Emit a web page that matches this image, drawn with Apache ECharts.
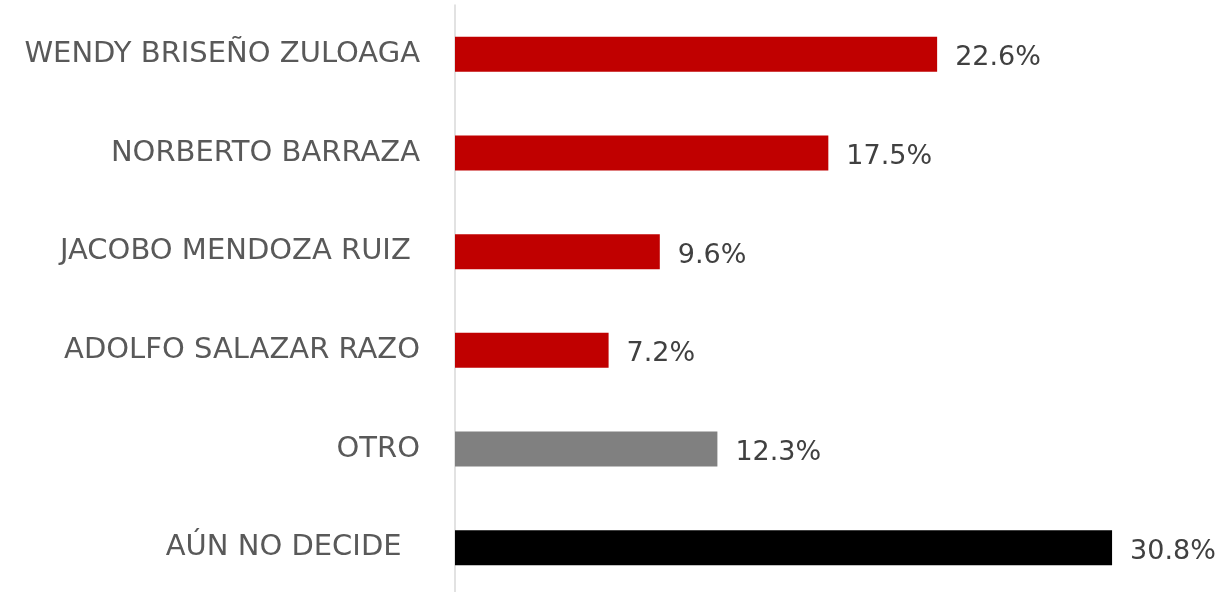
<!DOCTYPE html>
<html><head><meta charset="utf-8">
<script src="https://cdn.jsdelivr.net/npm/echarts@6/dist/echarts.min.js"></script>
<style>html,body{margin:0;padding:0;background:#fff;overflow:hidden}#c{width:1224px;height:600px}</style>
</head><body><div id="c"></div>
<script>
const categories = ['WENDY BRISEÑO ZULOAGA','NORBERTO BARRAZA','JACOBO MENDOZA RUIZ ','ADOLFO SALAZAR RAZO','OTRO','AÚN NO DECIDE  '];
const values = [22.6, 17.5, 9.6, 7.2, 12.3, 30.8];
const barColors = ['#C00000','#C00000','#C00000','#C00000','#808080','#000000'];

const chart = echarts.init(document.getElementById('c'));
chart.setOption({
  animation: false,
  grid: {left: 455, right: 1, top: 5, height: 592, containLabel: false},
  xAxis: {type: 'value', min: 0, max: 36, show: false},
  yAxis: {
    type: 'category', data: categories, inverse: true,
    axisLine: {show: true, lineStyle: {color: '#d9d9d9', width: 1.5}},
    axisTick: {show: false},
    axisLabel: {margin: 35, color: '#595959', fontSize: 29, fontFamily: 'DejaVu Sans', padding: [4, 0, 0, 0]}
  },
  series: [{
    type: 'bar', barWidth: 35,
    data: values.map((v, i) => ({value: v, itemStyle: {color: barColors[i]}})),
    label: {show: true, position: 'right', distance: 18, offset: [0, 4], color: '#404040', fontSize: 27, fontFamily: 'DejaVu Sans', formatter: p => p.value.toFixed(1) + '%'}
  }]
});
</script></body></html>
